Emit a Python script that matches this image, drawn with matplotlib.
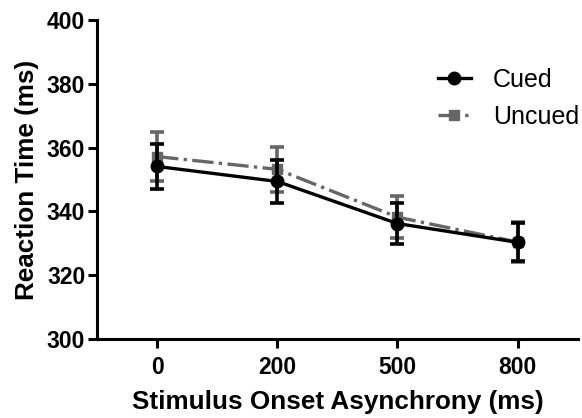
import matplotlib
matplotlib.use("Agg")
import matplotlib.pyplot as plt

soa_labels = ["0", "200", "500", "800"]
cued_rt = [354.1, 349.4, 336.2, 330.3]
cued_err = [7.1, 6.7, 6.5, 6.0]
uncued_rt = [357.2, 353.2, 338.2, 330.4]
uncued_err = [7.8, 7.1, 6.6, 6.4]

plt.rcParams["font.family"] = ["Liberation Sans", "DejaVu Sans"]

fig = plt.figure(figsize=(5.82, 4.18), dpi=100)
ax = fig.add_axes([0.1667, 0.189, 0.826, 0.763])

x = list(range(len(soa_labels)))
gray = "#666666"

unc = ax.errorbar(x, uncued_rt, yerr=uncued_err, color=gray, linestyle="-.", linewidth=2.4,
                  marker="s", markersize=7, capsize=5, capthick=2.6, elinewidth=2.6,
                  zorder=2)
cue = ax.errorbar(x, cued_rt, yerr=cued_err, color="black", linestyle="-", linewidth=2.4,
                  marker="o", markersize=9, capsize=5, capthick=2.6, elinewidth=2.6,
                  zorder=3)

ax.set_xlim(-0.5, 3.5)
ax.set_ylim(300, 400)
ax.set_yticks([300, 320, 340, 360, 380, 400])
ax.set_xticks(x)
ax.set_xticklabels(soa_labels)

for side in ("top", "right"):
    ax.spines[side].set_visible(False)
for side in ("left", "bottom"):
    ax.spines[side].set_linewidth(2.2)
ax.tick_params(axis="both", direction="out", length=6.5, width=2.2,
               labelsize=16.5, pad=2)
ax.tick_params(axis="x", pad=6)
for lbl in ax.get_xticklabels() + ax.get_yticklabels():
    lbl.set_fontweight("bold")

ax.set_xlabel("Stimulus Onset Asynchrony (ms)", fontsize=18.8, fontweight="bold", labelpad=8)
ax.set_ylabel("Reaction Time (ms)", fontsize=18.8, fontweight="bold", labelpad=6)

ax.legend([cue[0], unc[0]], ["Cued", "Uncued"], loc="upper right",
          bbox_to_anchor=(1.05, 0.92), frameon=False, fontsize=18,
          handlelength=1.3, handletextpad=0.9, labelspacing=0.5)

fig.savefig("out.png", dpi=100)
